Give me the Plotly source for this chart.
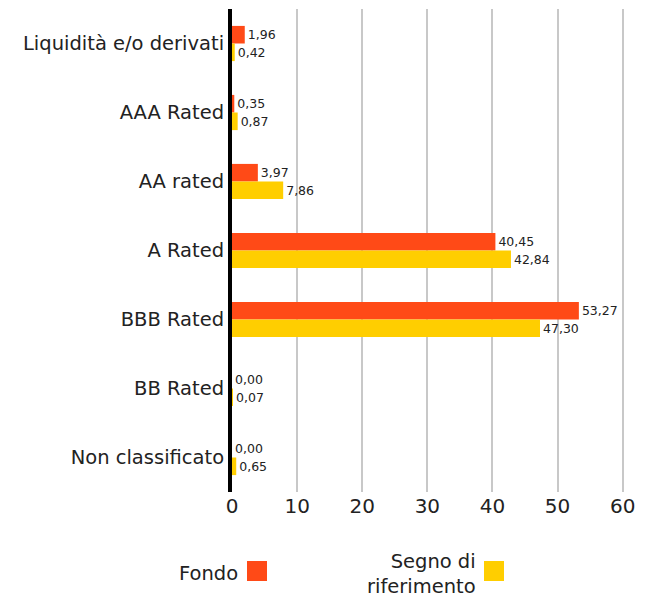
import plotly.graph_objects as go

categories = ["Liquidità e/o derivati", "AAA Rated", "AA rated", "A Rated",
              "BBB Rated", "BB Rated", "Non classificato"]
fondo = [1.96, 0.35, 3.97, 40.45, 53.27, 0.00, 0.00]
segno = [0.42, 0.87, 7.86, 42.84, 47.30, 0.07, 0.65]
series_names = ["Fondo", "Segno di<br>riferimento"]
tick_vals = [0, 10, 20, 30, 40, 50, 60]

ORANGE = "#FF4A17"
YELLOW = "#FFCE00"
FONT = "DejaVu Sans"

# page body has an 8px margin, so the figure is sized/positioned to compensate
W, H = 643, 589
L, R, T, B = 224, 27, 1, 105

fig = go.Figure()
for vals, col in [(fondo, ORANGE), (segno, YELLOW)]:
    fig.add_trace(go.Bar(
        y=categories, x=vals, orientation="h",
        marker=dict(color=col, line=dict(width=0)),
        texttemplate="%{x:.2f}", textposition="outside",
        textfont=dict(family=FONT, size=12.5, color="#222"),
        cliponaxis=False, showlegend=False,
    ))

fig.update_layout(
    width=W, height=H,
    margin=dict(l=L, r=R, t=T, b=B, autoexpand=False),
    paper_bgcolor="white", plot_bgcolor="white",
    barmode="group", bargap=0.49, bargroupgap=0,
    separators=",.",
    font=dict(family=FONT, color="#222"),
    xaxis=dict(range=[0, 60.2], tickvals=tick_vals, showgrid=True,
               gridcolor="#C8C8C8", gridwidth=2, zeroline=False,
               showline=False, tickfont=dict(size=20, color="#222"),
               ticks="", fixedrange=True, automargin=False),
    yaxis=dict(autorange="reversed", showline=True, linecolor="black",
               linewidth=4, showgrid=False, ticks="", automargin=False,
               tickfont=dict(size=19.5, color="#222"), ticklabelstandoff=0),
)

# manual legend: text then square (figure pixel coords -> paper coords)
X0, X1, Y0, Y1 = L, W - R, T, H - B
def px(x):
    return (x - X0) / (X1 - X0)
def py(y):
    return (Y1 - y) / (Y1 - Y0)

legend_items = [
    (series_names[0], ORANGE, 232, 239, 565),
    (series_names[1], YELLOW, 470, 476, 566),
]
for name, col, text_right, sq_left, ty in legend_items:
    fig.add_annotation(text=name, xref="paper", yref="paper",
                       x=px(text_right), y=py(ty), xanchor="right",
                       yanchor="middle", showarrow=False, align="right",
                       font=dict(family=FONT, size=19.5, color="#222"))
    fig.add_shape(type="rect", xref="paper", yref="paper",
                  x0=px(sq_left), x1=px(sq_left + 20),
                  y0=py(573), y1=py(553),
                  fillcolor=col, line=dict(width=0))

fig.write_html("out.html")
